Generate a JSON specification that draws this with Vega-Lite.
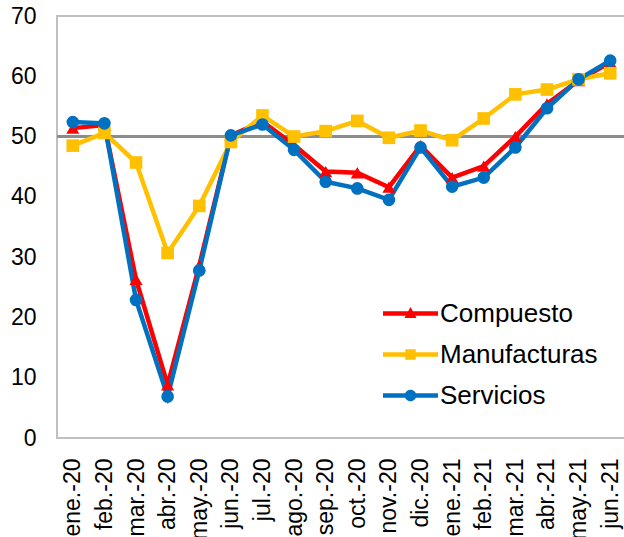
{
  "$schema": "https://vega.github.io/schema/vega-lite/v6.json",
  "autosize": "none",
  "width": 569,
  "height": 422,
  "padding": {"left": 57, "top": 16, "right": 0, "bottom": 99},
  "background": "white",
  "config": {
    "font": "Liberation Sans",
    "view": {"stroke": "#c0c0c0", "strokeWidth": 2},
    "axis": {"labelFont": "Liberation Sans", "labelColor": "black", "grid": false, "ticks": false, "domain": false, "title": null}
  },
  "data": {"values": [
    {"mes": "ene.-20", "serie": "Compuesto", "valor": 51.4},
    {"mes": "feb.-20", "serie": "Compuesto", "valor": 51.9},
    {"mes": "mar.-20", "serie": "Compuesto", "valor": 26.3},
    {"mes": "abr.-20", "serie": "Compuesto", "valor": 8.8},
    {"mes": "may.-20", "serie": "Compuesto", "valor": 28.6},
    {"mes": "jun.-20", "serie": "Compuesto", "valor": 50.2},
    {"mes": "jul.-20", "serie": "Compuesto", "valor": 52.5},
    {"mes": "ago.-20", "serie": "Compuesto", "valor": 48.6},
    {"mes": "sep.-20", "serie": "Compuesto", "valor": 44.2},
    {"mes": "oct.-20", "serie": "Compuesto", "valor": 44.0},
    {"mes": "nov.-20", "serie": "Compuesto", "valor": 41.6},
    {"mes": "dic.-20", "serie": "Compuesto", "valor": 48.5},
    {"mes": "ene.-21", "serie": "Compuesto", "valor": 43.2},
    {"mes": "feb.-21", "serie": "Compuesto", "valor": 45.1},
    {"mes": "mar.-21", "serie": "Compuesto", "valor": 50.0},
    {"mes": "abr.-21", "serie": "Compuesto", "valor": 55.4},
    {"mes": "may.-21", "serie": "Compuesto", "valor": 59.3},
    {"mes": "jun.-21", "serie": "Compuesto", "valor": 62.3},
    {"mes": "ene.-20", "serie": "Manufacturas", "valor": 48.5},
    {"mes": "feb.-20", "serie": "Manufacturas", "valor": 50.6},
    {"mes": "mar.-20", "serie": "Manufacturas", "valor": 45.7},
    {"mes": "abr.-20", "serie": "Manufacturas", "valor": 30.7},
    {"mes": "may.-20", "serie": "Manufacturas", "valor": 38.5},
    {"mes": "jun.-20", "serie": "Manufacturas", "valor": 49.1},
    {"mes": "jul.-20", "serie": "Manufacturas", "valor": 53.5},
    {"mes": "ago.-20", "serie": "Manufacturas", "valor": 50.0},
    {"mes": "sep.-20", "serie": "Manufacturas", "valor": 50.9},
    {"mes": "oct.-20", "serie": "Manufacturas", "valor": 52.6},
    {"mes": "nov.-20", "serie": "Manufacturas", "valor": 49.8},
    {"mes": "dic.-20", "serie": "Manufacturas", "valor": 51.0},
    {"mes": "ene.-21", "serie": "Manufacturas", "valor": 49.4},
    {"mes": "feb.-21", "serie": "Manufacturas", "valor": 53.0},
    {"mes": "mar.-21", "serie": "Manufacturas", "valor": 57.0},
    {"mes": "abr.-21", "serie": "Manufacturas", "valor": 57.8},
    {"mes": "may.-21", "serie": "Manufacturas", "valor": 59.5},
    {"mes": "jun.-21", "serie": "Manufacturas", "valor": 60.5},
    {"mes": "ene.-20", "serie": "Servicios", "valor": 52.4},
    {"mes": "feb.-20", "serie": "Servicios", "valor": 52.2},
    {"mes": "mar.-20", "serie": "Servicios", "valor": 22.9},
    {"mes": "abr.-20", "serie": "Servicios", "valor": 6.9},
    {"mes": "may.-20", "serie": "Servicios", "valor": 27.8},
    {"mes": "jun.-20", "serie": "Servicios", "valor": 50.2},
    {"mes": "jul.-20", "serie": "Servicios", "valor": 52.0},
    {"mes": "ago.-20", "serie": "Servicios", "valor": 47.8},
    {"mes": "sep.-20", "serie": "Servicios", "valor": 42.5},
    {"mes": "oct.-20", "serie": "Servicios", "valor": 41.4},
    {"mes": "nov.-20", "serie": "Servicios", "valor": 39.5},
    {"mes": "dic.-20", "serie": "Servicios", "valor": 48.2},
    {"mes": "ene.-21", "serie": "Servicios", "valor": 41.7},
    {"mes": "feb.-21", "serie": "Servicios", "valor": 43.2},
    {"mes": "mar.-21", "serie": "Servicios", "valor": 48.2},
    {"mes": "abr.-21", "serie": "Servicios", "valor": 54.7},
    {"mes": "may.-21", "serie": "Servicios", "valor": 59.5},
    {"mes": "jun.-21", "serie": "Servicios", "valor": 62.6}
  ]},
  "encoding": {
    "x": {
      "field": "mes", "type": "ordinal",
      "sort": ["ene.-20","feb.-20","mar.-20","abr.-20","may.-20","jun.-20","jul.-20","ago.-20","sep.-20","oct.-20","nov.-20","dic.-20","ene.-21","feb.-21","mar.-21","abr.-21","may.-21","jun.-21"],
      "scale": {"type": "point", "padding": 0.5},
      "axis": {"labelAngle": -90, "labelFontSize": 23, "labelPadding": 20, "labelOverlap": false}
    },
    "y": {
      "field": "valor", "type": "quantitative",
      "scale": {"domain": [0, 70], "nice": false, "zero": true},
      "axis": {"values": [0,10,20,30,40,50,60,70], "labelFontSize": 23, "labelPadding": 21}
    }
  },
  "layer": [
    {
      "mark": {"type": "rule", "color": "#8c8c8c", "strokeWidth": 2},
      "encoding": {"x": null, "y": {"datum": 50}}
    },
    {
      "mark": {"type": "line", "strokeWidth": 4.5},
      "encoding": {
        "color": {
          "field": "serie", "type": "nominal",
          "scale": {"domain": ["Compuesto", "Manufacturas", "Servicios"], "range": ["#ff0000", "#ffc000", "#0070c0"]},
          "legend": {
            "title": null,
            "orient": "none",
            "legendX": 326,
            "legendY": 270,
            "symbolSize": 3025,
            "symbolStrokeWidth": 0,
            "labelFontSize": 26,
            "labelColor": "black",
            "labelOffset": 2,
            "rowPadding": -1,
            "encode": {
              "symbols": {
                "update": {
                  "shape": {"signal": "datum.value === 'Compuesto' ? 'M-1,-0.08H1V0.08H-1ZM0,-0.24L0.22,0.16L-0.22,0.16Z' : datum.value === 'Manufacturas' ? 'M-1,-0.08H1V0.08H-1ZM-0.19,-0.19H0.19V0.19H-0.19Z' : 'M-1,-0.08H1V0.08H-1ZM-0.21,0A0.21,0.21,0,1,1,0.21,0A0.21,0.21,0,1,1,-0.21,0Z'"},
                  "fill": {"scale": "color", "field": "value"},
                  "fillOpacity": {"value": 1},
                  "strokeWidth": {"value": 0}
                }
              }
            }
          }
        }
      }
    },
    {
      "transform": [{"filter": "datum.serie === 'Compuesto'"}],
      "mark": {"type": "point", "filled": true, "opacity": 1, "size": 170, "shape": "triangle-up", "color": "#ff0000"}
    },
    {
      "transform": [{"filter": "datum.serie === 'Manufacturas'"}],
      "mark": {"type": "point", "filled": true, "opacity": 1, "size": 160, "shape": "square", "color": "#ffc000"}
    },
    {
      "transform": [{"filter": "datum.serie === 'Servicios'"}],
      "mark": {"type": "point", "filled": true, "opacity": 1, "size": 160, "shape": "circle", "color": "#0070c0"}
    }
  ]
}
